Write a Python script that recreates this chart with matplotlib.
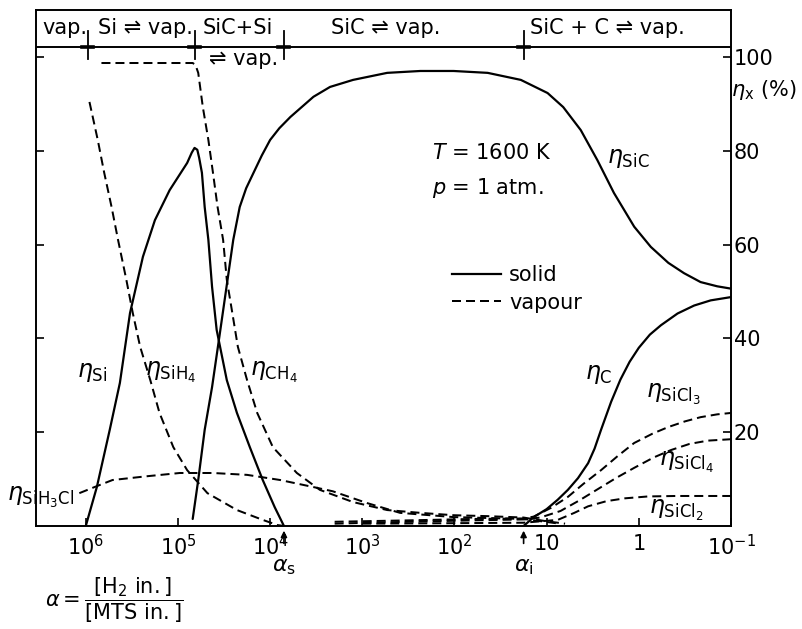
import numpy as np
import matplotlib
matplotlib.use("Agg")
import matplotlib.pyplot as plt
from matplotlib.lines import Line2D

plt.rcParams["font.family"] = ["DejaVu Sans"]
plt.rcParams["mathtext.fontset"] = "dejavusans"

# yields eta_x (%) against log10(alpha), alpha = [H2 in.]/[MTS in.], T = 1600 K
si_loga = [6.00, 5.88, 5.74, 5.63, 5.52, 5.38, 5.25, 5.09, 4.90, 4.85, 4.82, 4.79, 4.77,
           4.74, 4.71, 4.67, 4.63, 4.58, 4.47, 4.36, 4.22, 4.08, 3.95, 3.85]
si_eta = [0.0, 8.3, 20.5, 30.5, 45.4, 57.4, 65.2, 71.6, 77.4, 79.6, 80.6, 80.2, 78.5,
          75.3, 68.0, 61.0, 51.0, 41.8, 31.1, 24.1, 16.8, 9.8, 4.0, 0.0]

sic_loga = [4.84, 4.78, 4.71, 4.63, 4.54, 4.47, 4.40, 4.33, 4.26, 4.18, 4.09, 4.00, 3.90,
            3.78, 3.53, 3.35, 3.10, 2.73, 2.37, 2.01, 1.64, 1.28, 0.99, 0.82, 0.63, 0.45,
            0.27, 0.05, -0.13, -0.32, -0.49, -0.67, -0.85, -1.00]
sic_eta = [1.5, 9.8, 20.5, 29.6, 41.8, 51.4, 61.0, 68.0, 72.0, 75.3, 79.0, 82.3, 84.8,
           87.2, 91.5, 93.6, 95.1, 96.6, 97.0, 97.0, 96.6, 95.1, 92.3, 89.3, 84.4, 78.0,
           71.0, 63.8, 59.5, 56.1, 53.9, 52.0, 51.1, 50.6]

c_loga = [1.25, 1.14, 1.00, 0.88, 0.77, 0.66, 0.55, 0.48, 0.41, 0.30, 0.20, 0.10, 0.00,
          -0.12, -0.24, -0.42, -0.60, -0.78, -1.00]
c_eta = [0.0, 1.9, 3.6, 5.6, 7.7, 10.2, 13.4, 16.5, 20.5, 26.5, 31.2, 35.0, 38.0,
         40.8, 42.8, 45.3, 47.0, 48.1, 48.8]

sih4_loga = [5.96, 5.87, 5.80, 5.72, 5.65, 5.56, 5.49, 5.41, 5.30, 5.20, 5.05, 4.90, 4.68,
             4.36, 4.08, 3.92, 3.85]
sih4_eta = [90.4, 82.3, 75.3, 68.0, 61.0, 52.5, 45.4, 38.2, 31.1, 24.1, 16.8, 11.9, 7.0,
            3.4, 1.3, 0.2, 0.0]

ch4_loga = [5.83, 4.84, 4.81, 4.78, 4.73, 4.67, 4.62, 4.57, 4.51, 4.47, 4.41, 4.35, 4.25,
            4.14, 3.97, 3.71, 3.46, 3.10, 2.73, 2.37, 2.01, 1.64, 1.25, 1.00, 0.80]
ch4_eta = [98.7, 98.7, 98.3, 96.6, 89.3, 82.3, 75.3, 68.0, 61.0, 52.5, 45.4, 38.2, 31.1,
           24.1, 16.8, 11.3, 7.7, 5.1, 3.4, 2.8, 2.3, 2.1, 1.8, 1.0, 0.5]

sih3cl_loga = [6.07, 5.88, 5.71, 5.34, 4.98, 4.62, 4.25, 3.89, 3.53, 3.32, 2.95, 2.59,
               2.01, 1.25, 0.90]
sih3cl_eta = [7.0, 8.5, 9.8, 10.6, 11.3, 11.3, 10.9, 9.8, 8.3, 7.4, 4.9, 2.8, 1.9, 1.5, 0.6]

sicl3_loga = [3.30, 2.50, 1.80, 1.25, 1.14, 0.95, 0.77, 0.60, 0.41, 0.23, 0.05, -0.15,
              -0.32, -0.50, -0.67, -0.85, -1.00]
sicl3_eta = [0.9, 1.2, 1.5, 1.6, 2.0, 3.9, 6.2, 9.0, 11.9, 14.9, 17.7, 19.7, 21.1, 22.3,
             23.2, 23.8, 24.1]

sicl4_loga = [3.30, 2.50, 1.80, 1.25, 1.07, 0.85, 0.65, 0.45, 0.25, 0.05, -0.16, -0.35,
              -0.55, -0.75, -1.00]
sicl4_eta = [0.5, 0.9, 1.2, 1.4, 1.8, 3.2, 5.4, 7.8, 10.2, 12.4, 14.6, 16.2, 17.5, 18.2, 18.5]

sicl2_loga = [3.00, 2.00, 1.25, 0.88, 0.70, 0.55, 0.35, 0.15, -0.10, -0.40, -1.00]
sicl2_eta = [0.5, 0.6, 0.7, 1.3, 2.8, 4.2, 5.3, 5.9, 6.3, 6.4, 6.4]

# phase-field boundaries along the top band; alpha_s and alpha_i marked on the axis
phase_bounds_loga = [5.98, 4.82, 3.85, 1.25]
alpha_s_loga = 3.85
alpha_i_loga = 1.25

xtick_loga = [6, 5, 4, 3, 2, 1, 0, -1]
xtick_labels = ["$10^6$", "$10^5$", "$10^4$", "$10^3$", "$10^2$", "10", "1", "$10^{-1}$"]
ytick_vals = [20, 40, 60, 80, 100]

DASH = (0, (4.5, 2.5))
LW = 1.6


def a(loga):
    return 10.0 ** np.asarray(loga)


fig = plt.figure(figsize=(8.02, 6.29), dpi=100)
ax = fig.add_axes([36 / 802, 103 / 629, 695 / 802, 516 / 629])

solid = [(si_loga, si_eta), (sic_loga, sic_eta), (c_loga, c_eta)]
vapour = [(sih4_loga, sih4_eta), (ch4_loga, ch4_eta), (sih3cl_loga, sih3cl_eta),
          (sicl3_loga, sicl3_eta), (sicl4_loga, sicl4_eta), (sicl2_loga, sicl2_eta)]
for lx, ly in solid:
    ax.plot(a(lx), ly, color="k", lw=LW, solid_capstyle="round", solid_joinstyle="round")
for lx, ly in vapour:
    ax.plot(a(lx), ly, color="k", lw=LW * 0.9, linestyle=DASH)

ax.set_xscale("log")
ax.set_xlim(10 ** 6.54, 10 ** -1)
ax.set_ylim(0, 110)
ax.minorticks_off()
ax.set_xticks(a(xtick_loga))
ax.set_xticklabels(xtick_labels)
ax.set_yticks(ytick_vals)
ax.tick_params(axis="x", direction="in", length=6, width=1.2, pad=6, labelsize=15)
ax.tick_params(axis="y", direction="in", length=6, width=1.2, left=True, right=True,
               labelleft=False, labelright=True, pad=2, labelsize=15)
for s in ax.spines.values():
    s.set_linewidth(1.4)

# top band: phase fields
ax.axhline(102.1, color="k", lw=1.4)
for b in phase_bounds_loga:
    ax.plot([a(b)] * 2, [99.5, 105.6], color="k", lw=1.3)
    ax.plot([a(b + 0.06), a(b - 0.06)], [102.1, 102.1], color="k", lw=2.6)
band_kw = dict(fontsize=15, va="center")
ax.text(a(6.47), 106.2, "vap.", **band_kw)
ax.text(a(5.87), 106.2, "Si ⇌ vap.", **band_kw)
ax.text(a(4.73), 106.2, "SiC+Si", **band_kw)
ax.text(a(4.66), 99.6, "⇌ vap.", **band_kw)
ax.text(a(2.75), 106.2, "SiC ⇌ vap.", ha="center", **band_kw)
ax.text(a(0.34), 106.2, "SiC + C ⇌ vap.", ha="center", **band_kw)

# curve labels
lab_kw = dict(fontsize=17, va="center")
ax.text(a(6.09), 32.8, r"$\eta_{\mathrm{Si}}$", **lab_kw)
ax.text(a(5.36), 32.8, r"$\eta_{\mathrm{SiH}_4}$", **lab_kw)
ax.text(a(4.22), 32.8, r"$\eta_{\mathrm{CH}_4}$", **lab_kw)
ax.text(a(6.86), 6.0, r"$\eta_{\mathrm{SiH}_3\mathrm{Cl}}$", **lab_kw)
ax.text(a(0.34), 78.5, r"$\eta_{\mathrm{SiC}}$", **lab_kw)
ax.text(a(0.58), 32.4, r"$\eta_{\mathrm{C}}$", **lab_kw)
ax.text(a(-0.08), 28.1, r"$\eta_{\mathrm{SiCl}_3}$", **lab_kw)
ax.text(a(-0.22), 13.6, r"$\eta_{\mathrm{SiCl}_4}$", **lab_kw)
ax.text(a(-0.11), 3.4, r"$\eta_{\mathrm{SiCl}_2}$", **lab_kw)
ax.text(a(-1.0), 93.0, r"$\eta_{\mathrm{x}}$ (%)", fontsize=15, va="center")

ax.text(a(2.24), 79.5, r"$T$ = 1600 K", fontsize=15, va="center")
ax.text(a(2.24), 72.1, r"$p$ = 1 atm.", fontsize=15, va="center")

handles = [Line2D([], [], color="k", lw=LW),
           Line2D([], [], color="k", lw=LW * 0.9, linestyle=DASH)]
ax.legend(handles, ["solid", "vapour"], loc="upper left", bbox_to_anchor=(0.598, 0.505),
          frameon=False, fontsize=15, handlelength=2.35, handletextpad=0.4,
          labelspacing=0.35, borderpad=0, borderaxespad=0)

# alpha_s / alpha_i markers under the axis
for la, lab in [(alpha_s_loga, r"$\alpha_{\mathrm{s}}$"), (alpha_i_loga, r"$\alpha_{\mathrm{i}}$")]:
    ax.annotate("", xy=(a(la), -0.4), xytext=(a(la), -4.3), annotation_clip=False,
                arrowprops=dict(arrowstyle="-|>", color="k", lw=1.2, mutation_scale=9))
    ax.text(a(la), -8.7, lab, fontsize=16, ha="center", va="center")

fig.text(45 / 802, 1 - 600 / 629,
         r"$\alpha = \dfrac{[\mathrm{H_2\ in.}]}{[\mathrm{MTS\ in.}]}$",
         fontsize=15, va="center", ha="left")

fig.savefig("out.png", dpi=100, facecolor="white")
